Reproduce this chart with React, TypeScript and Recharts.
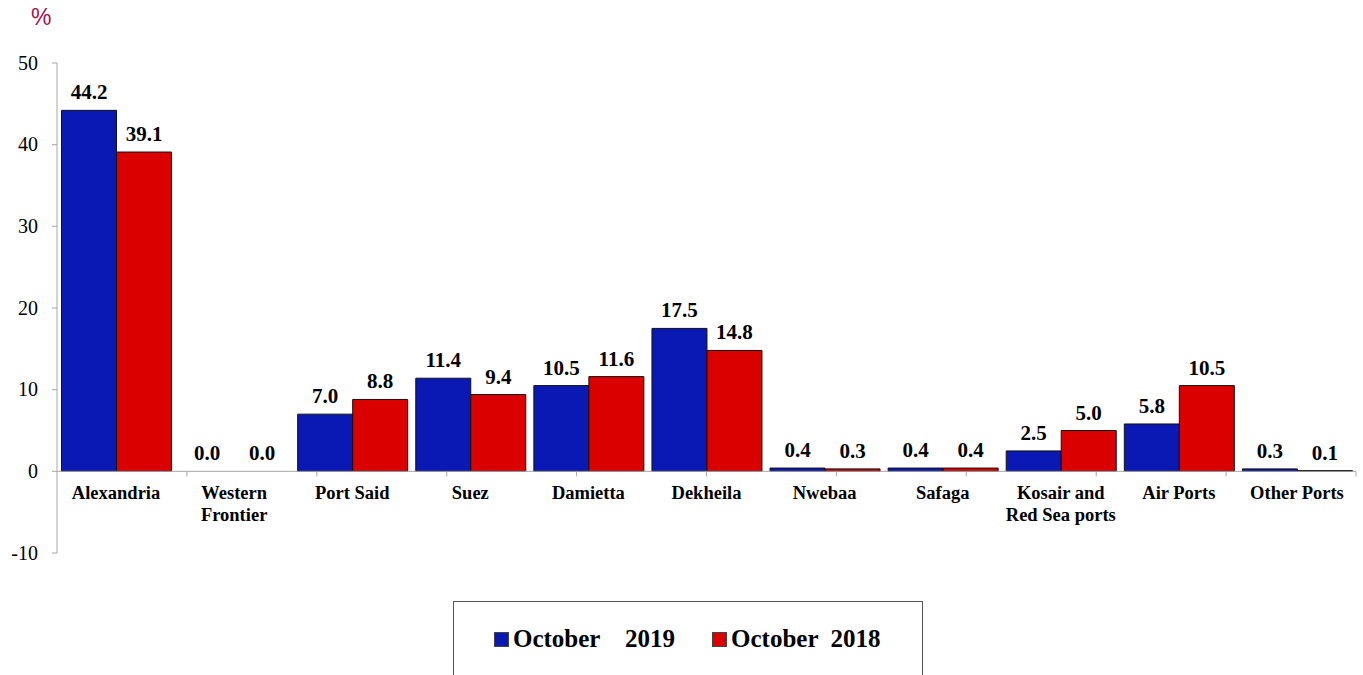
import React from "react";
import {
  BarChart,
  Bar,
  XAxis,
  YAxis,
  ReferenceLine,
  ReferenceDot,
  LabelList,
  Rectangle,
} from "recharts";

const categories: string[][] = [
  ["Alexandria"],
  ["Western", "Frontier"],
  ["Port Said"],
  ["Suez"],
  ["Damietta"],
  ["Dekheila"],
  ["Nwebaa"],
  ["Safaga"],
  ["Kosair and", "Red Sea ports"],
  ["Air Ports"],
  ["Other Ports"],
];
const oct2019: number[] = [44.2, 0.0, 7.0, 11.4, 10.5, 17.5, 0.4, 0.4, 2.5, 5.8, 0.3];
const oct2018: number[] = [39.1, 0.0, 8.8, 9.4, 11.6, 14.8, 0.3, 0.4, 5.0, 10.5, 0.1];
const yTicks: number[] = [-10, 0, 10, 20, 30, 40, 50];
const seriesNames = ["October    2019", "October  2018"];
const seriesColors = ["#0A19B4", "#DA0000"];

const data = categories.map((c, i) => ({
  key: c.join(" "),
  lines: c,
  a: oct2019[i],
  b: oct2018[i],
}));
const boundaries = categories.map((_, i) => i + 1);

const SERIF = "'Times New Roman', Tinos, 'Liberation Serif', 'DejaVu Serif', serif";
const AXIS_GREY = "#A6A6A6";

const CatLabel = (props: any) => {
  const { cx, cy, lines } = props;
  if (cx == null || cy == null) return null;
  return (
    <text
      x={cx}
      y={cy + 28}
      textAnchor="middle"
      style={{ fontFamily: SERIF, fontWeight: "bold", fontSize: 18.5 }}
      fill="#000"
    >
      {lines.map((l: string, i: number) => (
        <tspan key={i} x={cx} dy={i === 0 ? 0 : 22}>
          {l}
        </tspan>
      ))}
    </text>
  );
};

const YTick = (props: any) => {
  const { x, y, payload } = props;
  return (
    <text
      x={x}
      y={y}
      dy="0.34em"
      textAnchor="end"
      style={{ fontFamily: SERIF, fontSize: 20 }}
      fill="#000"
    >
      {payload.value}
    </text>
  );
};

const TickMark = (props: any) => {
  const { cx, cy } = props;
  if (cx == null || cy == null) return null;
  return <line x1={cx} y1={cy} x2={cx} y2={cy + 5} stroke={AXIS_GREY} strokeWidth={1} />;
};

const BarShape = (props: any) => {
  if (!props.value) return <g />;
  return <Rectangle {...props} />;
};

const zeroMin = (v: any) => (v === 0 ? 0.01 : 0);

export default function App() {
  return (
    <div
      style={{
        position: "absolute",
        left: 0,
        top: 0,
        width: 1363,
        height: 675,
        background: "#fff",
        overflow: "hidden",
      }}
    >
      <div
        style={{
          position: "absolute",
          left: 31,
          top: 4,
          fontFamily: "'Liberation Sans', Arial, sans-serif",
          fontSize: 23,
          color: "#A2124C",
        }}
      >
        %
      </div>
      <BarChart
        width={1363}
        height={675}
        data={data}
        margin={{ top: 63, right: 7, left: 0, bottom: 122 }}
        barCategoryGap={4.5}
        barGap={0}
      >
        <XAxis xAxisId="cat" dataKey="key" hide />
        <XAxis xAxisId="n" type="number" domain={[0, categories.length]} hide allowDataOverflow />
        <YAxis
          yAxisId="y"
          width={57}
          domain={[-10, 50]}
          ticks={yTicks}
          interval={0}
          tickSize={5}
          tickMargin={14}
          axisLine={{ stroke: AXIS_GREY }}
          tickLine={{ stroke: AXIS_GREY }}
          tick={(p: any) => <YTick {...p} />}
        />
        <ReferenceLine xAxisId="cat" yAxisId="y" y={0} stroke={AXIS_GREY} strokeWidth={1} />
        {boundaries.map((b) => (
          <ReferenceDot
            key={"t" + b}
            xAxisId="n"
            yAxisId="y"
            x={b}
            y={0}
            r={0}
            ifOverflow="visible"
            shape={(p: any) => <TickMark {...p} />}
          />
        ))}
        <Bar
          xAxisId="cat"
          yAxisId="y"
          dataKey="a"
          name={seriesNames[0]}
          fill={seriesColors[0]}
          stroke="#111"
          strokeWidth={1}
          minPointSize={zeroMin}
          shape={(p: any) => <BarShape {...p} />}
          isAnimationActive={false}
        >
          <LabelList
            dataKey="a"
            position="top"
            offset={11}
            formatter={(v: any) => Number(v).toFixed(1)}
            style={{ fontFamily: SERIF, fontWeight: "bold", fontSize: 21, fill: "#000" }}
          />
        </Bar>
        <Bar
          xAxisId="cat"
          yAxisId="y"
          dataKey="b"
          name={seriesNames[1]}
          fill={seriesColors[1]}
          stroke="#111"
          strokeWidth={1}
          minPointSize={zeroMin}
          shape={(p: any) => <BarShape {...p} />}
          isAnimationActive={false}
        >
          <LabelList
            dataKey="b"
            position="top"
            offset={11}
            formatter={(v: any) => Number(v).toFixed(1)}
            style={{ fontFamily: SERIF, fontWeight: "bold", fontSize: 21, fill: "#000" }}
          />
        </Bar>
        {data.map((d) => (
          <ReferenceDot
            key={"c" + d.key}
            xAxisId="cat"
            yAxisId="y"
            x={d.key}
            y={0}
            r={0}
            ifOverflow="visible"
            shape={(p: any) => <CatLabel {...p} lines={d.lines} />}
          />
        ))}
      </BarChart>
      <div
        style={{
          position: "absolute",
          left: 453,
          top: 601,
          width: 470,
          height: 90,
          border: "1px solid #555",
          boxSizing: "border-box",
        }}
      >
        <div
          style={{
            position: "absolute",
            left: 40,
            top: 23,
            display: "flex",
            alignItems: "center",
            fontFamily: SERIF,
            fontWeight: "bold",
            fontSize: 25,
            whiteSpace: "pre",
          }}
        >
          {seriesNames.map((n, i) => (
            <div
              key={n}
              style={{ display: "flex", alignItems: "center", marginRight: i === 0 ? 37 : 0 }}
            >
              <span
                style={{
                  display: "inline-block",
                  width: 13,
                  height: 13,
                  background: seriesColors[i],
                  border: "1px solid #444",
                  marginRight: 4,
                }}
              />
              <span>{n}</span>
            </div>
          ))}
        </div>
      </div>
    </div>
  );
}
